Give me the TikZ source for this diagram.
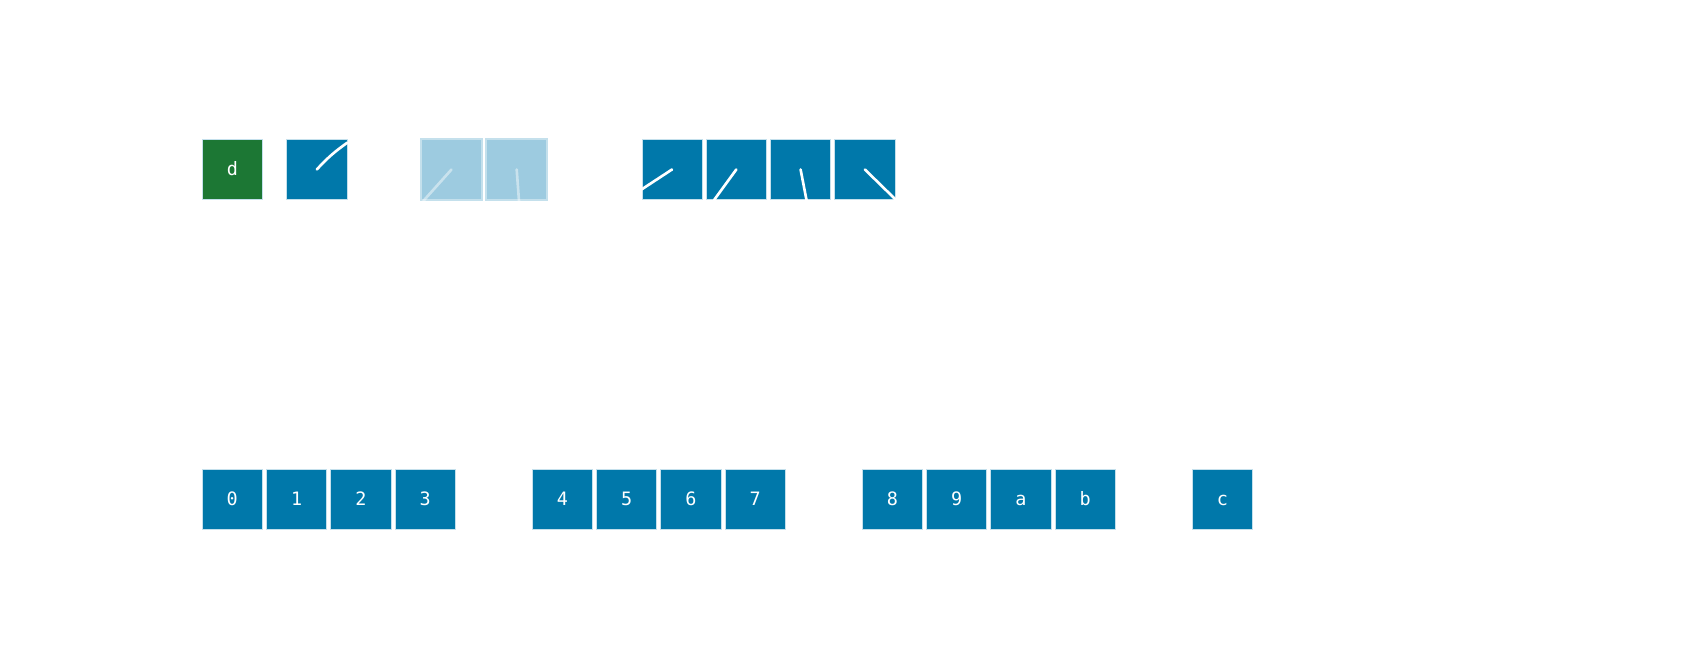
\documentclass[tikz,border=0pt]{standalone}
\usepackage{fontspec}
\setmonofont{DejaVu Sans Mono}
\usepackage{tikz}

\definecolor{cellblue}{RGB}{0,120,170}
\definecolor{cellgreen}{RGB}{28,119,52}
\definecolor{cellpale}{RGB}{157,203,224}
\definecolor{edgepale}{RGB}{196,224,236}

\tikzset{
  cell/.style={fill=cellblue,draw=edgepale,line width=0.4pt,minimum size=1.206cm,
    inner sep=0pt,text=white,text height=7.3pt,text depth=0pt,
    font=\ttfamily\fontsize{10.5}{12}\selectfont},
  donecell/.style={cell,fill=cellgreen},
  ghostcell/.style={cell,fill=cellpale,draw=edgepale,line width=1.2pt,minimum size=1.22cm},
  hand/.style={white,line width=1.5pt,line cap=round},
  ghosthand/.style={hand,white,opacity=0.45}
}

\begin{document}
\begin{tikzpicture}
  \useasboundingbox (0,0) rectangle (33.68,12.98);
  % top row
  \node[donecell] (d) at (4.65,9.59) {d};
  \node[cell] (turn) at (6.336,9.59) {};
  \draw[hand] (turn.center) to[bend left=6] ++(0.61,0.536);
  \node[ghostcell] (g1) at (9.03,9.59) {};
  \node[ghostcell] (g2) at (10.334,9.59) {};
  \draw[ghosthand] (g1.center) -- ++(-0.564,-0.63);
  \draw[ghosthand] (g2.center) -- ++(0.046,-0.63);
  \foreach \dx/\dy [count=\k from 0] in {-0.604/-0.396,-0.444/-0.61,0.118/-0.61,0.603/-0.59} {
    \node[cell] (w\k) at (13.44+1.286*\k,9.59) {};
    \draw[hand] (w\k.center) -- ++(\dx,\dy);
  };
  % bottom row
  \foreach \lab [count=\n from 0] in {0,1,2,3,4,5,6,7,8,9,a,b,c} {
    \pgfmathsetmacro\xx{4.646+6.6*floor(\n/4)+1.286*mod(\n,4)}
    \node[cell] (b\lab) at (\xx,2.99) {\lab};
  };
\end{tikzpicture}
\end{document}
